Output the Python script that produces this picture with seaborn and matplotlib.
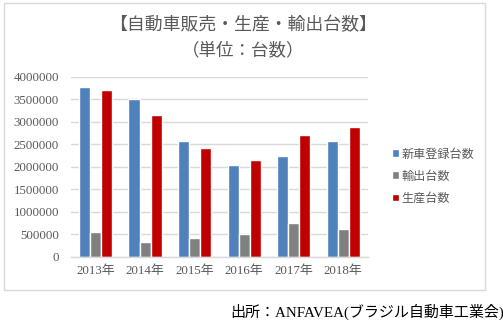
import matplotlib
matplotlib.use("Agg")
import matplotlib.pyplot as plt
from matplotlib.patches import Rectangle
import seaborn as sns
import pandas as pd

years = ["2013年", "2014年", "2015年", "2016年", "2017年", "2018年"]
series_names = ["新車登録台数", "輸出台数", "生産台数"]
registrations = [3767000, 3498000, 2568000, 2050000, 2239000, 2566000]
exports = [565000, 334000, 417000, 520000, 762000, 629000]
production = [3712000, 3146000, 2429000, 2156000, 2699000, 2880000]
colors = ["#4f81bd", "#808080", "#c00000"]
y_ticks = [0, 500000, 1000000, 1500000, 2000000, 2500000, 3000000, 3500000, 4000000]

df = pd.DataFrame({
    "year": years * 3,
    "series": [series_names[0]] * 6 + [series_names[1]] * 6 + [series_names[2]] * 6,
    "value": registrations + exports + production,
})

sns.set_theme(style="white")
plt.rcParams["font.family"] = ["Liberation Serif", "Noto Sans CJK JP", "DejaVu Sans"]
text_color = "#595959"

fig = plt.figure(figsize=(5.03, 3.26), dpi=100)
ax = fig.add_axes([0.1406, 0.2117, 0.591, 0.553])

sns.barplot(data=df, x="year", y="value", hue="series", hue_order=series_names,
            palette=colors, width=0.67, saturation=1, ax=ax, legend=True)

ax.set_ylim(0, 4000000)
ax.set_yticks(y_ticks)
ax.set_yticklabels([str(v) for v in y_ticks])
ax.set_xlabel("")
ax.set_ylabel("")
ax.grid(axis="y", color="#d9d9d9", linewidth=1)
ax.set_axisbelow(True)
for side in ["left", "right", "top"]:
    ax.spines[side].set_visible(False)
ax.spines["bottom"].set_color("#d9d9d9")
ax.spines["bottom"].set_linewidth(1)
ax.tick_params(axis="y", length=0, pad=8.5, labelsize=9.3, labelcolor=text_color)
ax.tick_params(axis="x", length=0, pad=6, labelsize=9.3, labelcolor=text_color)

handles, labels = ax.get_legend_handles_labels()
ax.legend(handles, labels, loc="center left", bbox_to_anchor=(0.758, 0.46),
          bbox_transform=fig.transFigure, frameon=False, handlelength=0.6,
          handleheight=0.6, handletextpad=0.15, labelspacing=0.75,
          prop={"family": ["Noto Sans CJK JP"], "size": 8.7}, labelcolor=text_color)

fig.text(0.483, 0.923, "【自動車販売・生産・輸出台数】", ha="center", va="center",
         fontsize=12.9, color=text_color, family=["Noto Sans CJK JP"])
fig.text(0.483, 0.847, "（単位：台数）", ha="center", va="center",
         fontsize=12.6, color=text_color, family=["Noto Sans CJK JP"])
fig.text(0.457, 0.043, "出所：ANFAVEA(ブラジル自動車工業会)", ha="left", va="center",
         fontsize=10.8, color="black", family=["Liberation Serif", "Noto Sans CJK JP"])

fig.patches.append(Rectangle((4 / 503, 1 - 290 / 326), 481 / 503, 287 / 326,
                             transform=fig.transFigure, fill=False,
                             edgecolor="#d9d9d9", linewidth=1))

fig.savefig("out.png", dpi=100, facecolor="white")
